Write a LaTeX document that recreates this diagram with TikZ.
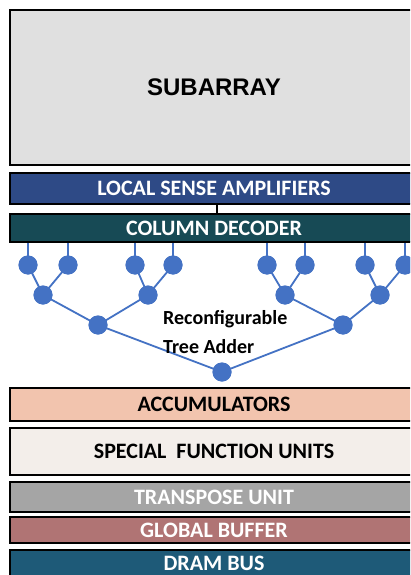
\documentclass[tikz,border=0pt]{standalone}
\usepackage{fontspec}
\newfontfamily\calib{Carlito}
\newfontfamily\arial{Liberation Sans}
\definecolor{subfill}{HTML}{E0E0E0}
\definecolor{lsafill}{HTML}{2E4A86}
\definecolor{cdfill}{HTML}{174A55}
\definecolor{accfill}{HTML}{F2C4AE}
\definecolor{sfufill}{HTML}{F3EEEA}
\definecolor{tufill}{HTML}{A5A5A5}
\definecolor{gbfill}{HTML}{B07474}
\definecolor{dramfill}{HTML}{1E5A78}
\definecolor{treeblue}{HTML}{4472C4}
\begin{document}
\begin{tikzpicture}[x=1pt,y=-1pt,
  box/.style={draw=black, line width=2.6pt, rectangle, inner sep=0pt, minimum width=408pt, font=\calib\bfseries\fontsize{22}{22}\selectfont},
  dot/.style={circle, fill=treeblue, inner sep=0pt, minimum size=19pt},
  edge/.style={treeblue, line width=1.8pt},
]
\useasboundingbox (0,0) rectangle (410,575);
\clip (0,0) rectangle (410,575);
\fill[white] (0,0) rectangle (410,575);

\node[box, fill=subfill, minimum height=155pt, font=\arial\bfseries\fontsize{24}{24}\selectfont] (sub) at (214,87.5) {SUBARRAY};
\node[box, fill=lsafill, text=white, minimum height=31pt] (lsa) at (214,188.5) {LOCAL SENSE AMPLIFIERS};
\node[box, fill=cdfill, text=white, minimum height=28pt] (cd) at (214,228) {COLUMN DECODER};
\node[box, fill=accfill, text=black, minimum height=33pt] (acc) at (214,404.5) {ACCUMULATORS};
\node[box, fill=sfufill, text=black, minimum height=47pt] (sfu) at (214,451.5) {SPECIAL\ \ FUNCTION UNITS};
\node[box, fill=tufill, text=white, minimum height=30pt] (tu) at (214,497) {TRANSPOSE UNIT};
\node[box, fill=gbfill, text=white, minimum height=26pt] (gb) at (214,530) {GLOBAL BUFFER};
\node[box, fill=dramfill, text=white, minimum height=26pt] (dram) at (214,563) {DRAM BUS};

\coordinate (lsab) at ([xshift=3pt]lsa.south);
\draw[black, line width=1.6pt] (lsab) -- (lsab |- cd.north);

% tree nodes
\node[dot] (l1) at (28,265) {};
\node[dot] (l2) at (68,265) {};
\node[dot] (l3) at (135,265) {};
\node[dot] (l4) at (173,265) {};
\node[dot] (l5) at (267,265) {};
\node[dot] (l6) at (305,265) {};
\node[dot] (l7) at (365,265) {};
\node[dot] (l8) at (405,265) {};
\node[dot] (n1) at (43,295) {};
\node[dot] (n2) at (148,295) {};
\node[dot] (n3) at (285,295) {};
\node[dot] (n4) at (380,295) {};
\node[dot] (m1) at (98,325) {};
\node[dot] (m2) at (343,325) {};
\node[dot] (r) at (222,372) {};

\foreach \l in {l1,l2,l3,l4,l5,l6,l7,l8}
  \draw[edge] (\l |- cd.south) -- (\l.center);
\draw[edge] (l1.center) -- (n1.center) -- (l2.center);
\draw[edge] (l3.center) -- (n2.center) -- (l4.center);
\draw[edge] (l5.center) -- (n3.center) -- (l6.center);
\draw[edge] (l7.center) -- (n4.center) -- (l8.center);
\draw[edge] (n1.center) -- (m1.center) -- (n2.center);
\draw[edge] (n3.center) -- (m2.center) -- (n4.center);
\draw[edge] (m1.center) -- (r.center) -- (m2.center);
% redraw dots over lines
\foreach \d in {l1,l2,l3,l4,l5,l6,l7,l8,n1,n2,n3,n4,m1,m2,r}
  \fill[treeblue] (\d) circle (9.5pt);

\node[anchor=north west, align=left, inner sep=0pt, font=\calib\bfseries\fontsize{20}{29}\selectfont] (lbl) at (163,310) {Reconfigurable\\Tree Adder};
\end{tikzpicture}
\end{document}
